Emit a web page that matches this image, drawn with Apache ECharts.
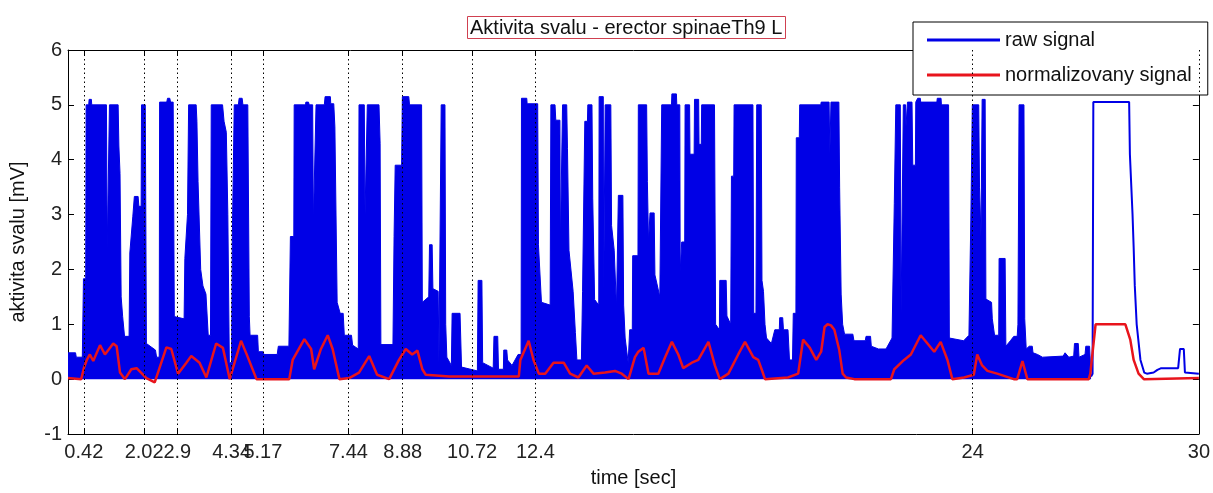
<!DOCTYPE html>
<html>
<head>
<meta charset="utf-8">
<title>Aktivita svalu - erector spinaeTh9 L</title>
<script src="https://cdn.jsdelivr.net/npm/echarts@6.0.0/dist/echarts.min.js"></script>
<style>
    html, body {
        margin: 0;
        padding: 0;
        background: #fff;
    }
    #chart {
        width: 1213px;
        height: 493px;
    }
</style>
</head>
<body>
<div id="chart"></div>
<script>
// tick positions on the time axis (sec)
const xTicks = [0.42, 2.02, 2.9, 4.34, 5.17, 7.44, 8.88, 10.72, 12.4, 24, 30];

// raw signal, upper envelope of the dense EMG part [time, mV]
const rawFilled = [
    [0, 0.48], [0.2, 0.48], [0.22, 0.4], [0.38, 0.4],
    [0.41, 1.83], [0.47, 1.83], [0.48, 5.0], [0.55, 5.0], [0.56, 5.1], [0.62, 5.1], [0.63, 5.0],
    [1.02, 5.0], [1.04, 2.37], [1.09, 2.37], [1.1, 5.0], [1.33, 5.0], [1.35, 4.25], [1.38, 3.75],
    [1.41, 1.5], [1.45, 1.14], [1.5, 0.78], [1.62, 0.78], [1.64, 2.3], [1.72, 2.97], [1.76, 3.33],
    [1.86, 3.33], [1.88, 3.15], [1.94, 3.15], [1.95, 5.0], [2.05, 5.0], [2.08, 0.65], [2.32, 0.53],
    [2.35, 0.4], [2.42, 0.4], [2.43, 5.05], [2.62, 5.05], [2.64, 5.12], [2.7, 5.12], [2.72, 5.05],
    [2.79, 5.05], [2.82, 1.14], [3.08, 1.1], [3.1, 2.2], [3.17, 3.0], [3.2, 5.0], [3.4, 5.0],
    [3.42, 4.7], [3.45, 3.6], [3.52, 2.0], [3.58, 1.7], [3.66, 1.55], [3.72, 0.8], [3.78, 0.8],
    [3.8, 5.0], [4.1, 5.0], [4.14, 4.7], [4.2, 4.5], [4.24, 3.0], [4.28, 0.3], [4.34, 0.3],
    [4.36, 2.6], [4.41, 5.0], [4.52, 5.0], [4.54, 5.12], [4.62, 5.12], [4.64, 5.0], [4.77, 5.0],
    [4.81, 1.14], [4.83, 0.8], [5.03, 0.8], [5.05, 0.5], [5.17, 0.5], [5.2, 0.45], [5.55, 0.45],
    [5.58, 0.6], [5.86, 0.6], [5.9, 2.6], [5.99, 2.6], [6.0, 5.0], [6.3, 5.0], [6.31, 5.05],
    [6.38, 5.05], [6.4, 5.0], [6.49, 5.0], [6.51, 2.85], [6.56, 2.85], [6.58, 5.0], [6.8, 5.0],
    [6.82, 5.15], [6.96, 5.15], [6.97, 5.02], [7.05, 5.02], [7.08, 4.6], [7.14, 1.4], [7.22, 1.2],
    [7.3, 1.2], [7.33, 0.8], [7.52, 0.8], [7.55, 0.62], [7.7, 0.55], [7.72, 5.0], [7.86, 5.0],
    [7.88, 3.0], [7.92, 3.0], [7.94, 5.0], [8.25, 5.0], [8.28, 4.3], [8.3, 0.63], [8.62, 0.63],
    [8.65, 2.6], [8.68, 3.9], [8.85, 3.9], [8.87, 5.15], [9.04, 5.15], [9.06, 5.0], [9.38, 5.0],
    [9.4, 1.4], [9.57, 1.5], [9.59, 2.45], [9.66, 2.45], [9.68, 1.65], [9.82, 1.6], [9.84, 0.3],
    [9.88, 0.3], [9.9, 5.0], [10.0, 5.0], [10.02, 1.0], [10.05, 0.4], [10.17, 0.25], [10.19, 1.2],
    [10.4, 1.2], [10.44, 0.22], [10.86, 0.15], [10.88, 1.8], [10.98, 1.8], [11.0, 0.3], [11.28, 0.2],
    [11.3, 0.78], [11.4, 0.78], [11.42, 0.18], [11.55, 0.18], [11.56, 0.53], [11.64, 0.53],
    [11.66, 0.35], [11.78, 0.25], [11.94, 0.45], [12.02, 0.45], [12.03, 5.12], [12.17, 5.12],
    [12.18, 5.02], [12.46, 5.02], [12.48, 2.45], [12.56, 1.4], [12.79, 1.35], [12.81, 5.0],
    [12.92, 5.0], [12.94, 4.72], [13.05, 4.72], [13.06, 2.4], [13.11, 2.4], [13.12, 5.0],
    [13.23, 5.0], [13.25, 4.2], [13.29, 2.35], [13.4, 1.6], [13.46, 0.85], [13.5, 0.35],
    [13.62, 0.35], [13.65, 1.6], [13.71, 4.7], [13.78, 4.7], [13.79, 5.0], [13.9, 5.0],
    [13.92, 3.3], [13.97, 1.45], [14.08, 1.35], [14.09, 5.15], [14.2, 5.15], [14.21, 1.45],
    [14.24, 1.45], [14.25, 5.0], [14.4, 5.0], [14.42, 2.8], [14.49, 2.35], [14.55, 1.3],
    [14.59, 1.3], [14.6, 3.35], [14.72, 3.35], [14.74, 1.35], [14.78, 0.75], [14.86, 0.3],
    [14.9, 0.9], [14.97, 0.9], [14.98, 2.25], [15.12, 2.25], [15.13, 5.0], [15.35, 5.0],
    [15.37, 3.6], [15.4, 2.5], [15.43, 2.5], [15.44, 3.03], [15.55, 3.03], [15.57, 1.9],
    [15.62, 1.75], [15.7, 1.5], [15.74, 1.5], [15.75, 5.0], [16.01, 5.0], [16.02, 5.2],
    [16.14, 5.2], [16.15, 5.0], [16.23, 5.0], [16.24, 1.95], [16.27, 1.95], [16.28, 2.5],
    [16.36, 2.5], [16.37, 5.0], [16.49, 5.0], [16.5, 4.1], [16.61, 4.1], [16.62, 5.1],
    [16.73, 5.1], [16.74, 4.28], [16.8, 4.28], [16.81, 5.0], [17.15, 5.0], [17.18, 1.0],
    [17.28, 0.9], [17.29, 1.8], [17.46, 1.8], [17.48, 1.15], [17.58, 1.0], [17.6, 3.7],
    [17.66, 3.7], [17.67, 5.0], [18.17, 5.0], [18.19, 1.2], [18.25, 1.2], [18.27, 5.0],
    [18.39, 5.0], [18.41, 1.8], [18.45, 1.6], [18.49, 1.0], [18.53, 0.75], [18.66, 0.65],
    [18.75, 0.9], [18.87, 0.9], [18.88, 1.12], [18.96, 1.12], [18.98, 0.9], [19.1, 0.9],
    [19.14, 0.35], [19.22, 0.35], [19.24, 1.2], [19.31, 1.2], [19.32, 4.4], [19.4, 4.4],
    [19.41, 5.0], [19.97, 5.0], [19.98, 5.05], [20.19, 5.05], [20.21, 4.1], [20.23, 4.1],
    [20.24, 5.05], [20.45, 5.05], [20.47, 3.5], [20.51, 1.55], [20.55, 1.0], [20.6, 0.82],
    [20.82, 0.82], [20.85, 0.7], [21.15, 0.7], [21.17, 0.78], [21.29, 0.78], [21.31, 0.6],
    [21.5, 0.55], [21.7, 0.55], [21.86, 0.75], [21.92, 3.2], [21.95, 3.2], [21.96, 5.0],
    [22.08, 5.0], [22.1, 1.2], [22.14, 1.2], [22.16, 5.0], [22.22, 5.0], [22.23, 4.6],
    [22.26, 4.6], [22.27, 5.05], [22.39, 5.05], [22.41, 3.9], [22.48, 3.9], [22.49, 5.05],
    [22.53, 5.05], [22.54, 5.12], [22.61, 5.12], [22.62, 5.05], [23.05, 5.05], [23.06, 5.12],
    [23.16, 5.12], [23.17, 5.0], [23.36, 5.0], [23.38, 0.75], [23.76, 0.7], [23.9, 0.8],
    [23.95, 2.9], [23.98, 2.9], [23.99, 5.0], [24.16, 5.0], [24.18, 3.5], [24.22, 2.6],
    [24.24, 2.6], [24.25, 5.1], [24.33, 5.1], [24.35, 1.46], [24.5, 1.4], [24.52, 1.1],
    [24.58, 0.8], [24.69, 0.8], [24.7, 2.2], [24.86, 2.2], [24.88, 0.6], [25.0, 0.7],
    [25.09, 0.78], [25.18, 0.78], [25.2, 1.0], [25.22, 1.0], [25.23, 5.0], [25.36, 5.0],
    [25.38, 1.1], [25.42, 0.55], [25.5, 0.6], [25.58, 0.6], [25.6, 0.48], [25.72, 0.45],
    [25.85, 0.4], [26.4, 0.42], [26.45, 0.48], [26.55, 0.4], [26.68, 0.42], [26.7, 0.65],
    [26.8, 0.65], [26.82, 0.4], [26.98, 0.45], [27.0, 0.6], [27.1, 0.6], [27.14, 0.05]
];

// raw signal, last part (single trace, not filled)
const rawTail = [
    [27.14, 0.05], [27.18, 0.1], [27.2, 5.05], [28.15, 5.05], [28.17, 4.1], [28.24, 3.0],
    [28.27, 2.4], [28.3, 1.7], [28.35, 1.0], [28.45, 0.35], [28.55, 0.12], [28.62, 0.1],
    [28.8, 0.12], [28.9, 0.17], [29.0, 0.2], [29.45, 0.2], [29.5, 0.55], [29.6, 0.55],
    [29.63, 0.12], [30, 0.1]
];

// normalized signal [time, mV]
const normSignal = [
    [0, 0.02], [0.35, 0.0], [0.42, 0.2], [0.5, 0.35], [0.58, 0.45], [0.67, 0.33], [0.85, 0.62],
    [0.98, 0.45], [1.2, 0.65], [1.29, 0.6], [1.38, 0.12], [1.51, 0.0], [1.68, 0.18], [1.82, 0.2],
    [2.08, 0.02], [2.3, -0.06], [2.61, 0.58], [2.74, 0.55], [2.92, 0.1], [3.14, 0.3], [3.27, 0.42],
    [3.49, 0.3], [3.67, 0.03], [3.93, 0.65], [4.11, 0.57], [4.29, 0.0], [4.59, 0.7], [4.73, 0.47],
    [5.0, 0.0], [5.87, 0.0], [5.96, 0.35], [6.27, 0.73], [6.45, 0.55], [6.53, 0.18], [6.71, 0.55],
    [6.89, 0.8], [7.02, 0.55], [7.2, 0.0], [7.46, 0.02], [7.72, 0.12], [7.99, 0.42], [8.2, 0.08],
    [8.52, 0.0], [8.78, 0.35], [8.96, 0.55], [9.13, 0.45], [9.27, 0.52], [9.4, 0.18], [9.49, 0.08],
    [10.11, 0.05], [11.96, 0.05], [12.0, 0.35], [12.22, 0.7], [12.35, 0.35], [12.49, 0.1],
    [12.66, 0.1], [12.88, 0.3], [13.15, 0.3], [13.32, 0.1], [13.54, 0.03], [13.76, 0.25],
    [13.94, 0.1], [14.25, 0.12], [14.51, 0.15], [14.69, 0.1], [14.87, 0.0], [15.04, 0.4],
    [15.13, 0.5], [15.27, 0.57], [15.4, 0.1], [15.66, 0.1], [15.84, 0.4], [16.02, 0.68],
    [16.19, 0.45], [16.32, 0.2], [16.55, 0.3], [16.72, 0.35], [16.99, 0.68], [17.16, 0.25],
    [17.29, 0.0], [17.52, 0.1], [17.78, 0.45], [17.96, 0.68], [18.18, 0.4], [18.31, 0.35],
    [18.4, 0.18], [18.49, 0.0], [19.1, 0.03], [19.37, 0.1], [19.5, 0.72], [19.68, 0.57],
    [19.85, 0.35], [19.98, 0.5], [20.07, 0.95], [20.15, 1.0], [20.24, 0.98], [20.33, 0.9],
    [20.46, 0.53], [20.55, 0.1], [20.64, 0.03], [20.86, 0.0], [21.83, 0.0], [21.92, 0.18],
    [22.18, 0.35], [22.36, 0.45], [22.62, 0.8], [22.8, 0.65], [22.98, 0.5], [23.15, 0.68],
    [23.33, 0.35], [23.46, 0.0], [23.77, 0.03], [24.03, 0.08], [24.12, 0.45], [24.25, 0.25],
    [24.39, 0.15], [24.65, 0.1], [24.87, 0.05], [25.09, 0.0], [25.18, 0.0], [25.32, 0.33],
    [25.45, 0.0], [27.08, 0.0], [27.12, 0.1], [27.26, 1.0], [28.05, 1.0], [28.18, 0.72],
    [28.27, 0.35], [28.4, 0.1], [28.54, 0.0], [30, 0.02]
];

const rawColor = '#0000e6';
const normColor = '#e8141c';
const fontFamily = '"Liberation Sans", Arial, Helvetica, sans-serif';

const myChart = echarts.init(document.getElementById('chart'));

// shared axis frame settings (MATLAB style box with inner ticks)
const frameLine = { show: true, onZero: false, lineStyle: { color: '#000', width: 1 } };
const innerTick = { show: true, inside: true, length: 6, lineStyle: { color: '#000' } };

const option = {
    backgroundColor: '#fff',
    animation: false,
    title: {
        text: 'Aktivita svalu - erector spinaeTh9 L',
        left: 467,
        top: 16,
        padding: [2, 3, 1, 3],
        borderColor: '#d04050',
        borderWidth: 1,
        textStyle: {
            fontFamily: fontFamily,
            fontSize: 20,
            fontWeight: 'normal',
            color: '#111'
        }
    },
    legend: {
        orient: 'vertical',
        left: 913,
        top: 22,
        padding: [8, 16, 10, 14],
        itemGap: 15,
        itemWidth: 73,
        itemHeight: 3,
        icon: 'rect',
        backgroundColor: '#fff',
        borderColor: '#000',
        borderWidth: 1,
        textStyle: {
            fontFamily: fontFamily,
            fontSize: 20,
            color: '#111'
        },
        data: ['raw signal', 'normalizovany signal']
    },
    grid: {
        left: 68,
        right: 11,
        top: 50,
        bottom: 56
    },
    xAxis: [
        {
            type: 'value',
            min: 0,
            max: 30,
            position: 'bottom',
            name: 'time [sec]',
            nameLocation: 'middle',
            nameGap: 34,
            nameTextStyle: {
                fontFamily: fontFamily,
                fontSize: 20,
                color: '#111'
            },
            axisLine: frameLine,
            axisTick: Object.assign({ customValues: xTicks }, innerTick),
            axisLabel: {
                customValues: xTicks,
                margin: 8,
                fontFamily: fontFamily,
                fontSize: 20,
                color: '#222'
            },
            splitLine: { show: false }
        },
        {
            type: 'value',
            min: 0,
            max: 30,
            position: 'top',
            axisLine: frameLine,
            axisTick: Object.assign({ customValues: xTicks }, innerTick),
            axisLabel: { show: false },
            splitLine: { show: false }
        }
    ],
    yAxis: [
        {
            type: 'value',
            min: -1,
            max: 6,
            interval: 1,
            position: 'left',
            name: 'aktivita svalu [mV]',
            nameLocation: 'middle',
            nameRotate: 90,
            nameGap: 40,
            nameTextStyle: {
                fontFamily: fontFamily,
                fontSize: 20,
                color: '#111'
            },
            axisLine: frameLine,
            axisTick: innerTick,
            axisLabel: {
                margin: 6,
                fontFamily: fontFamily,
                fontSize: 20,
                color: '#222'
            },
            splitLine: { show: false }
        },
        {
            type: 'value',
            min: -1,
            max: 6,
            interval: 1,
            position: 'right',
            axisLine: frameLine,
            axisTick: innerTick,
            axisLabel: { show: false },
            splitLine: { show: false }
        }
    ],
    series: [
        {
            name: 'raw signal',
            type: 'line',
            data: rawFilled,
            symbol: 'none',
            itemStyle: { color: rawColor },
            lineStyle: { color: rawColor, width: 1 },
            areaStyle: { color: rawColor, opacity: 1 }
        },
        {
            name: 'raw signal',
            type: 'line',
            data: rawTail,
            symbol: 'none',
            itemStyle: { color: rawColor },
            lineStyle: { color: rawColor, width: 2 }
        },
        {
            name: 'normalizovany signal',
            type: 'line',
            data: normSignal,
            symbol: 'none',
            itemStyle: { color: normColor },
            lineStyle: { color: normColor, width: 2.5 },
            // dotted grid lines at the marked times
            markLine: {
                silent: true,
                symbol: 'none',
                label: { show: false },
                lineStyle: { color: '#000', width: 1, type: [1.5, 3] },
                data: xTicks.map(t => ({ xAxis: t }))
            }
        }
    ]
};

myChart.setOption(option);
</script>
</body>
</html>
